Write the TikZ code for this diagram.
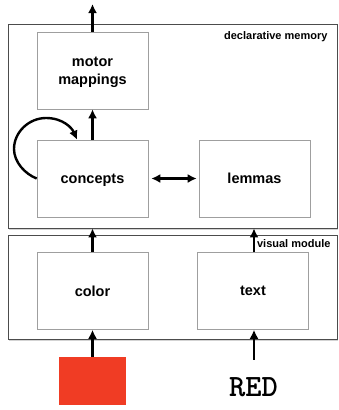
\documentclass[tikz,border=0pt]{standalone}
\usepackage{fontspec}
\setsansfont{Liberation Sans}
\usetikzlibrary{arrows.meta,shadows}
\tikzset{
	unit/.style={draw=gray!75, line width=0.6pt, minimum width=111pt, minimum height=77pt, align=center, text depth=0pt, font=\sffamily\bfseries\fontsize{14.5}{18}\selectfont},
	module/.style={draw=black!70, line width=0.8pt, fill=white, drop shadow={shadow xshift=1pt, shadow yshift=-2pt, opacity=0.35}},
	modlabel/.style={anchor=east, font=\sffamily\bfseries\fontsize{11}{13}\selectfont},
	arr/.style={-{Latex[length=9pt,width=9pt]}, line width=2.4pt},
}
\begin{document}
\begin{tikzpicture}[x=1pt, y=-1pt]
				\useasboundingbox (0,0) rectangle (339,410);
				%modules
				\node[module, minimum width=329pt, minimum height=204pt] (mem) at (172.5,126) {};
				\node[modlabel] (memlabel) at (331,37) {declarative memory};
				\node[module, minimum width=329pt, minimum height=104pt] (vis) at (172.5,287) {};
				\node[modlabel] (vislabel) at (334,244) {visual module};
				%boxes
				\foreach \name/\x/\y/\txt in {motor/92.5/70.5/{motor\\mappings}, concepts/92.5/178.5/concepts, lemmas/254.5/178.5/lemmas, color/92.5/291/color, txt/253/291/text} {
					\node[unit] (\name) at (\x,\y) {\txt};
				}
				%inputs
				\node[fill={rgb,255:red,240;green,60;blue,36}, minimum width=67pt, minimum height=48pt, inner sep=0pt] (swatch) at (92.5,381) {};
				\node[anchor=base, font=\ttfamily\bfseries\fontsize{31}{31}\selectfont] (word) at (253.5,396) {RED};
				\coordinate (out) at (92.5,4);
				%arrows
				\draw[arr] (motor.north) -- (motor.north |- out);
				\draw[arr] (concepts.north) -- (motor.south);
				\draw[arr] (concepts.west) .. controls (25,174) and (14,162) .. (14,149) .. controls (14,132) and (29,118) .. (46,118) .. controls (63,118) and (72,128) .. ([xshift=-15.5pt]concepts.north);
				\draw[arr, <->, >={Latex[length=9pt,width=9pt]}, shorten <=3pt, shorten >=2pt] (concepts.east) -- (lemmas.west);
				\draw[arr] (color.north) -- (color.north |- mem.south);
				\draw[arr] ([xshift=1pt]txt.north) -- ([xshift=1pt]txt.north |- mem.south);
				\draw[arr] (swatch.north) -- (color.south);
				\draw[arr] ([xshift=0.5pt, yshift=14pt]word.north) -- ([xshift=1pt]txt.south);
			\end{tikzpicture}
\end{document}
